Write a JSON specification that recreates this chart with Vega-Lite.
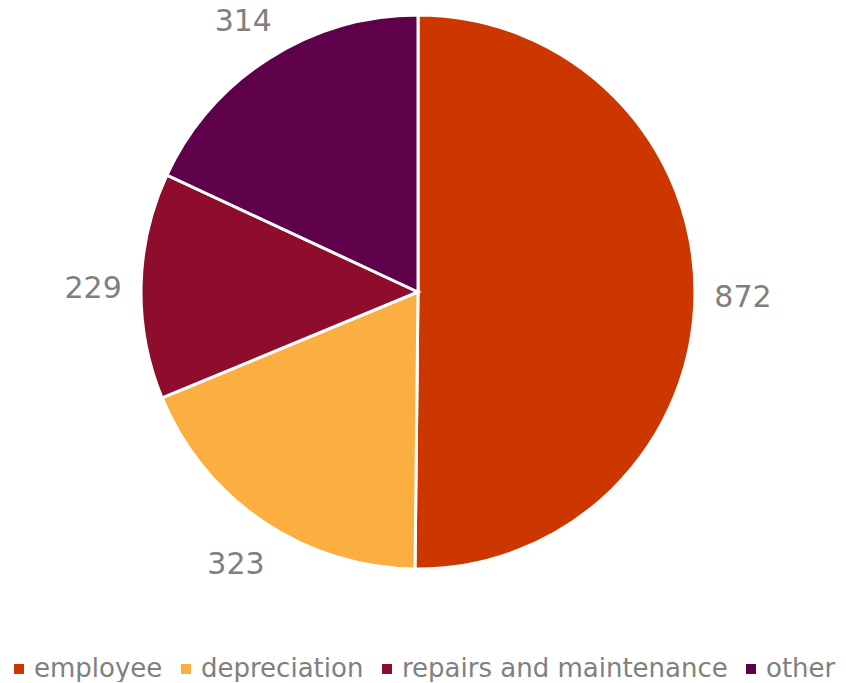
{
  "$schema": "https://vega.github.io/schema/vega-lite/v6.json",
  "width": 836,
  "height": 584,
  "autosize": {"type": "pad"},
  "padding": 0,
  "background": "white",
  "config": {"view": {"stroke": null}, "font": "DejaVu Sans"},
  "data": {"values": [
    {"category": "employee", "value": 872, "order": 1},
    {"category": "depreciation", "value": 323, "order": 2},
    {"category": "repairs and maintenance", "value": 229, "order": 3},
    {"category": "other", "value": 314, "order": 4}
  ]},
  "encoding": {
    "theta": {"field": "value", "type": "quantitative", "stack": true},
    "order": {"field": "order", "type": "quantitative"},
    "color": {
      "field": "category", "type": "nominal",
      "sort": ["employee", "depreciation", "repairs and maintenance", "other"],
      "scale": {"domain": ["employee", "depreciation", "repairs and maintenance", "other"],
                "range": ["#CC3700", "#FBAF41", "#8E0C2C", "#5E004A"]},
      "legend": {
        "title": null, "orient": "none", "direction": "horizontal",
        "legendX": 6, "legendY": 656, "padding": 0,
        "labelFontSize": 26, "labelColor": "#808080",
        "symbolType": "square", "symbolSize": 100, "symbolStrokeWidth": 0,
        "labelOffset": 2, "columnPadding": 10, "labelLimit": 400
      }
    }
  },
  "layer": [
    {"mark": {"type": "arc", "outerRadius": 277, "stroke": "white", "strokeWidth": 3}},
    {"mark": {"type": "text", "radius": 325, "fontSize": 30, "fill": "#808080", "baseline": "middle", "align": "center", "dy": 4},
     "encoding": {"text": {"field": "value", "type": "quantitative"}, "color": {"value": "#808080"}}}
  ]
}
